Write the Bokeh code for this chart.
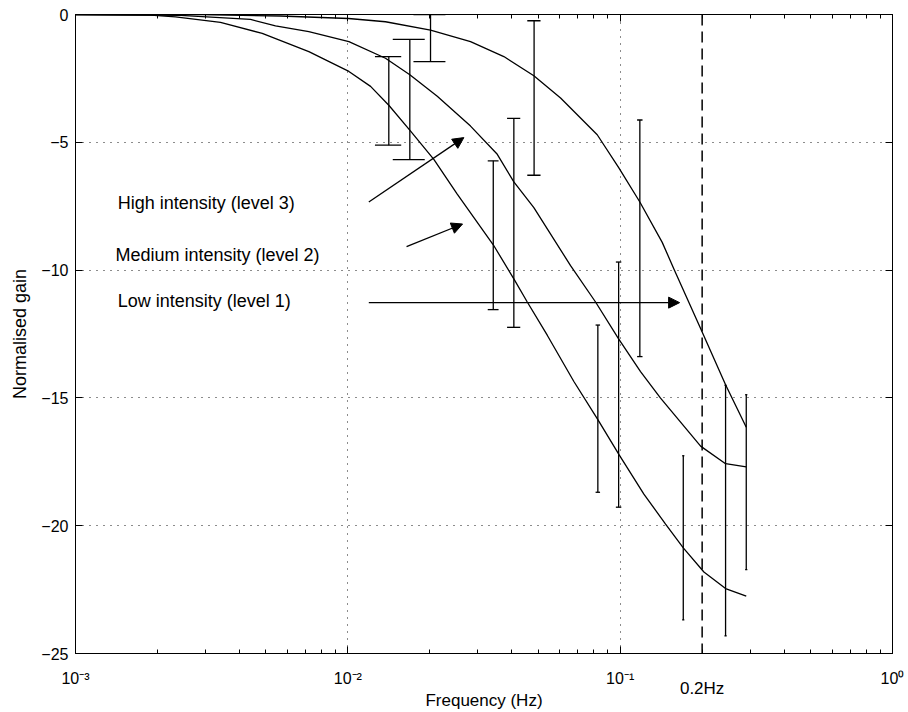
from bokeh.plotting import figure
from bokeh.models import (LogAxis, LinearAxis, FixedTicker, Span, Label, Arrow,
                          NormalHead, Range1d)
from bokeh.embed import file_html
from bokeh.resources import INLINE

FONT = "Liberation Sans"

# ---------------- data ----------------
# curves (frequency in Hz, normalised gain)
low_freq = [0.001, 0.001886, 0.002329, 0.003407, 0.004849, 0.007191, 0.01009,
            0.01212, 0.01414, 0.01700, 0.02069, 0.02522, 0.0342, 0.0407,
            0.04559, 0.05398, 0.06761, 0.0828, 0.0989, 0.1222, 0.1468,
            0.1705, 0.2030, 0.2438, 0.2904]
low_gain = [0.0, -0.023, -0.089, -0.311, -0.739, -1.450, -2.228,
            -2.811, -3.550, -4.561, -5.665, -7.026, -9.009, -10.342,
            -11.248, -12.547, -14.358, -15.851, -17.212, -18.767, -19.934,
            -20.867, -21.812, -22.461, -22.757]

med_freq = [0.001, 0.002430, 0.004393, 0.005425, 0.007191, 0.01009, 0.01375,
            0.01689, 0.02130, 0.02822, 0.03538, 0.0407, 0.0482, 0.06574,
            0.08121, 0.0987, 0.1188, 0.1407, 0.1974, 0.2438, 0.2904]
med_gain = [0.0, -0.031, -0.194, -0.447, -0.673, -1.061, -1.711,
            -2.360, -3.200, -4.366, -5.470, -6.551, -7.554, -9.825,
            -11.248, -12.691, -13.970, -15.008, -16.886, -17.574, -17.702]

high_freq = [0.001, 0.002877, 0.005658, 0.01006, 0.01375, 0.02012, 0.02822,
             0.03740, 0.0482, 0.06042, 0.08237, 0.0989, 0.1181, 0.1427,
             0.1575, 0.1974, 0.2438, 0.2904]
high_gain = [0.0, -0.008, -0.058, -0.156, -0.284, -0.610, -1.061,
             -1.645, -2.399, -3.266, -4.705, -5.999, -7.337, -8.915,
             -9.953, -12.286, -14.483, -16.147]

# error bars (upper / lower limits)
low_bar_freq = [0.01414, 0.0342, 0.0828, 0.1705]
low_bar_upper = [-1.647, -5.724, -12.150, -17.263]
low_bar_lower = [-5.113, -11.546, -18.692, -23.688]

med_bar_freq = [0.01689, 0.0407, 0.0987, 0.2438]
med_bar_upper = [-0.974, -4.061, -9.685, -14.506]
med_bar_lower = [-5.674, -12.239, -19.276, -24.311]

high_bar_freq = [0.02012, 0.0483, 0.1181, 0.2904]
high_bar_upper = [0.0, -0.245, -4.128, -14.875]
high_bar_lower = [-1.842, -6.289, -13.384, -21.717]

# annotations
label_texts = ["High intensity (level 3)", "Medium intensity (level 2)",
               "Low intensity (level 1)"]
label_freq = [0.001429, 0.001402, 0.001429]
label_gain = [-7.37, -9.39, -11.20]

arrow_start_freq = [0.01194, 0.01643, 0.01194]
arrow_start_gain = [-7.333, -9.081, -11.273]
arrow_end_freq = [0.02667, 0.02638, 0.1653]
arrow_end_gain = [-4.817, -8.197, -11.273]

cutoff_freq = 0.2
cutoff_text = "0.2Hz"

# axes
x_ticks = [0.001, 0.01, 0.1, 1.0]
x_tick_labels = ["10\u207b\u00b3", "10\u207b\u00b2", "10\u207b\u00b9", "10\u2070"]
x_minor_ticks = [m * 10.0 ** e for e in (-3, -2, -1) for m in range(2, 10)]
y_ticks = [0, -5, -10, -15, -20, -25]
y_tick_labels = ["0", "\u22125", "\u221210", "\u221215", "\u221220", "\u221225"]
x_grid = [0.01, 0.1]
y_grid = [-5, -10, -15, -20]
x_title = "Frequency (Hz)"
y_title = "Normalised gain"

# ---------------- figure ----------------
p = figure(width=908, height=712, x_axis_type="log",
           x_range=Range1d(0.001, 1.0), y_range=Range1d(-25, 0),
           output_backend="svg", toolbar_location=None,
           min_border_left=75, min_border_right=16, min_border_top=14,
           min_border_bottom=56)
p.background_fill_color = "white"
p.border_fill_color = "white"
p.outline_line_color = "black"
p.outline_line_width = 1

# grids
p.xgrid.ticker = FixedTicker(ticks=x_grid)
p.ygrid.ticker = FixedTicker(ticks=y_grid)
for g in (p.xgrid, p.ygrid):
    g.grid_line_color = "black"
    g.grid_line_dash = "1 6"
    g.grid_line_width = 1
    g.grid_line_alpha = 0.9


def hide_labels(ax):
    ax.major_label_text_font_size = "1px"
    ax.major_label_text_alpha = 0
    ax.major_label_standoff = 0


# bottom axis with 10^n labels
xa = p.xaxis[0]
xa.ticker = FixedTicker(ticks=x_ticks, minor_ticks=x_minor_ticks)
xa.major_label_overrides = {t: s for t, s in zip(x_ticks, x_tick_labels)}
xa.major_label_text_font = FONT
xa.major_label_text_font_size = "16px"
xa.major_label_text_color = "black"
xa.major_label_standoff = 16

# second bottom row: 0.2Hz marker text and axis title
xb = LogAxis(ticker=FixedTicker(ticks=[cutoff_freq], minor_ticks=[]),
             major_label_overrides={cutoff_freq: cutoff_text})
xb.major_label_text_font = FONT
xb.major_label_text_font_size = "17px"
xb.major_label_text_color = "black"
xb.major_label_standoff = -11
xb.axis_line_color = None
xb.major_tick_line_color = None
xb.minor_tick_line_color = None
xb.major_tick_in = 0
xb.major_tick_out = 0
xb.axis_label = x_title
xb.axis_label_text_font = FONT
xb.axis_label_text_font_size = "17px"
xb.axis_label_text_font_style = "normal"
xb.axis_label_text_color = "black"
xb.axis_label_standoff = -10
p.add_layout(xb, "below")

ya = p.yaxis[0]
ya.ticker = FixedTicker(ticks=y_ticks)
ya.major_label_overrides = {t: s for t, s in zip(y_ticks, y_tick_labels)}
ya.major_label_text_font = FONT
ya.major_label_text_font_size = "16px"
ya.major_label_text_color = "black"
ya.major_label_standoff = 7
ya.axis_label = y_title
ya.axis_label_text_font = FONT
ya.axis_label_text_font_size = "18px"
ya.axis_label_text_font_style = "normal"
ya.axis_label_text_color = "black"
ya.axis_label_standoff = 8

top = LogAxis(ticker=FixedTicker(ticks=x_ticks, minor_ticks=x_minor_ticks))
hide_labels(top)
right = LinearAxis(ticker=FixedTicker(ticks=y_ticks))
hide_labels(right)
p.add_layout(top, "above")
p.add_layout(right, "right")

for ax in (xa, ya, top, right):
    ax.axis_line_color = "black"
    ax.major_tick_line_color = "black"
    ax.major_tick_in = 7
    ax.major_tick_out = 0
    ax.minor_tick_in = 4
    ax.minor_tick_out = 0
for ax in (ya, right):
    ax.minor_tick_line_color = None
for ax in (xa, top):
    ax.minor_tick_line_color = "black"

# cutoff line
p.add_layout(Span(location=cutoff_freq, dimension="height", line_color="black",
                  line_dash="11 6", line_width=1.5))

# curves
for fx, gy in ((low_freq, low_gain), (med_freq, med_gain), (high_freq, high_gain)):
    p.line(fx, gy, line_color="black", line_width=1.3)

# error bars
for fx, up, lo in ((low_bar_freq, low_bar_upper, low_bar_lower),
                   (med_bar_freq, med_bar_upper, med_bar_lower),
                   (high_bar_freq, high_bar_upper, high_bar_lower)):
    tee = (max(fx) - min(fx)) / 100.0
    p.segment(x0=fx, y0=lo, x1=fx, y1=up, line_color="black", line_width=1.3)
    left = [f - tee for f in fx]
    rightx = [f + tee for f in fx]
    p.segment(x0=left, y0=up, x1=rightx, y1=up, line_color="black", line_width=1.3)
    p.segment(x0=left, y0=lo, x1=rightx, y1=lo, line_color="black", line_width=1.3)

# annotation texts and arrows
for t, fx, gy in zip(label_texts, label_freq, label_gain):
    p.add_layout(Label(x=fx, y=gy, text=t, text_align="left", text_baseline="middle",
                       text_font=FONT, text_font_size="18px", text_color="black"))
for xs, ys, xe, ye in zip(arrow_start_freq, arrow_start_gain, arrow_end_freq, arrow_end_gain):
    p.add_layout(Arrow(end=NormalHead(size=11, fill_color="black", line_color="black",
                                      line_width=1),
                       x_start=xs, y_start=ys, x_end=xe, y_end=ye,
                       line_color="black", line_width=1.3))

open("out.html", "w").write(file_html(p, INLINE))
